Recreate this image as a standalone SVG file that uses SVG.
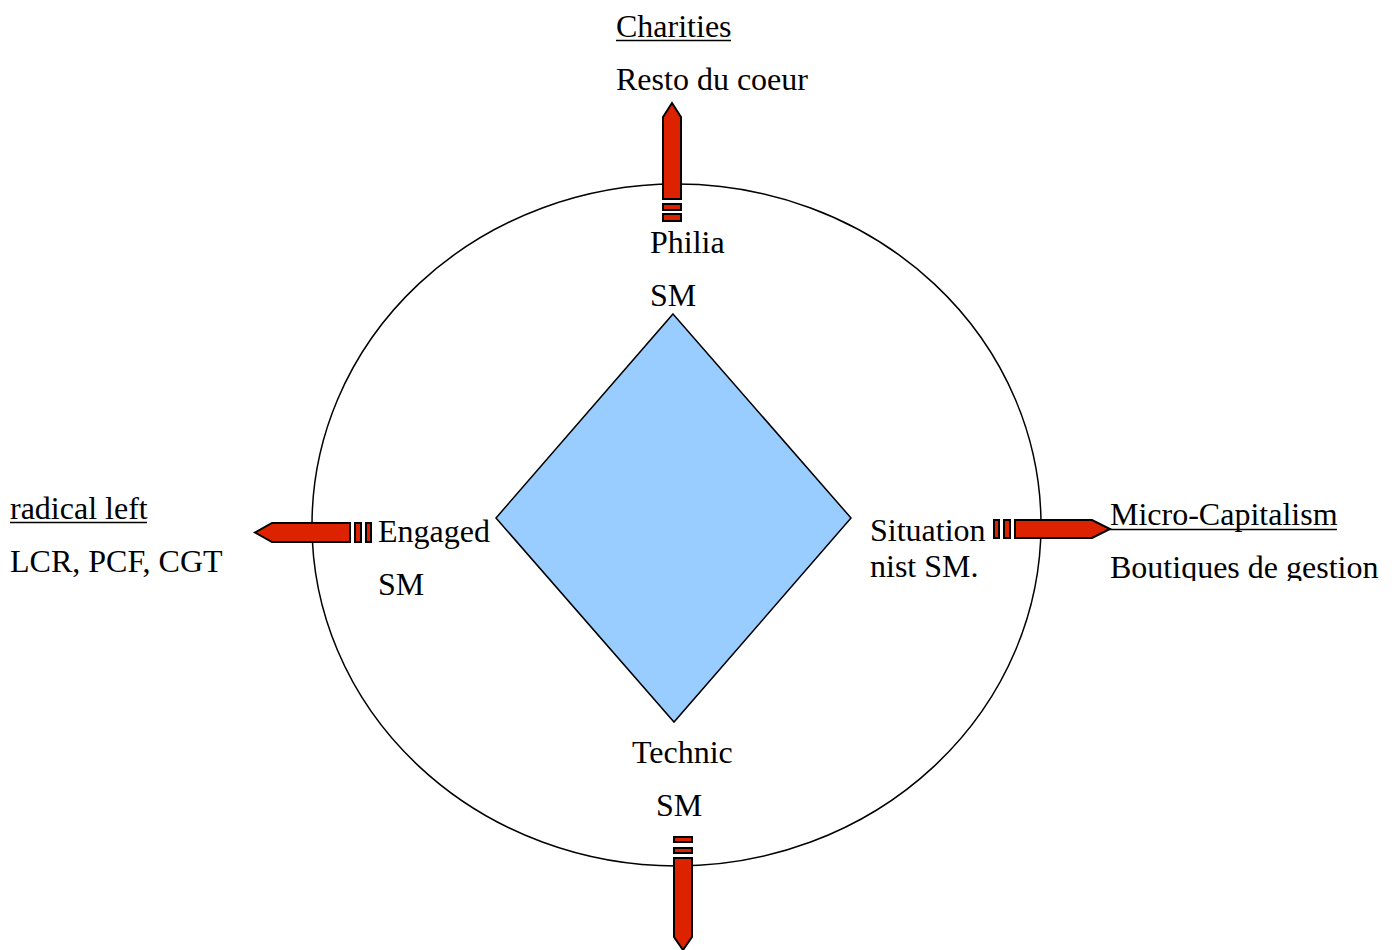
<svg xmlns="http://www.w3.org/2000/svg" width="1394" height="950" viewBox="0 0 1394 950">
<defs>
<style>
.t{font-family:"Liberation Serif","Times New Roman",serif;font-size:32px;fill:#000}
.ul{stroke:#000;stroke-width:1.3;fill:none}
.ar{fill:#DD2200;stroke:#000;stroke-width:2;stroke-linejoin:miter}
</style>
<clipPath id="clipB"><rect x="1100" y="540" width="294" height="41"/></clipPath>
</defs>
<rect width="1394" height="950" fill="#fff"/>
<g id="circle"><ellipse cx="676.5" cy="525" rx="364.5" ry="341" fill="none" stroke="#000" stroke-width="1.5"/></g>
<g id="diamond"><polygon points="673,314 851,518 674,722 496,518" fill="#99CCFF" stroke="#000" stroke-width="1.5"/></g>
<g id="connectors">
<g id="arrow-top">
<polygon class="ar" points="663,199 663,117 672,103 681,117 681,199"/>
<rect class="ar" x="663" y="204" width="18" height="6"/>
<rect class="ar" x="663" y="214" width="18" height="7"/>
</g>
<g id="arrow-left">
<polygon class="ar" points="350,523 272,523 255,532.5 272,542 350,542"/>
<rect class="ar" x="355" y="523" width="6" height="19"/>
<rect class="ar" x="366" y="523" width="5" height="19"/>
</g>
<g id="arrow-right">
<polygon class="ar" points="1015,520 1092,520 1110,529 1092,538 1015,538"/>
<rect class="ar" x="994" y="520" width="5" height="18"/>
<rect class="ar" x="1004" y="520" width="6" height="18"/>
</g>
<g id="arrow-bottom">
<rect class="ar" x="674" y="837" width="18" height="5"/>
<rect class="ar" x="674" y="848" width="18" height="5"/>
<polygon class="ar" points="674,858 692,858 692,937 683,950 674,937"/>
</g>
</g>
<g id="node-charities">
<text class="t" x="616" y="37">Charities</text>
<line class="ul" x1="616" y1="40.5" x2="731" y2="40.5"/>
<text class="t" x="616" y="90">Resto du coeur</text>
</g>
<g id="node-philia">
<text class="t" x="650" y="253">Philia</text>
<text class="t" x="650" y="306">SM</text>
</g>
<g id="node-engaged">
<text class="t" x="378" y="542">Engaged</text>
<text class="t" x="378" y="595">SM</text>
</g>
<g id="node-situationist">
<text class="t" x="870" y="541">Situation</text>
<text class="t" x="870" y="577">nist SM.</text>
</g>
<g id="node-technic">
<text class="t" x="632" y="763">Technic</text>
<text class="t" x="656" y="816">SM</text>
</g>
<g id="node-radical-left">
<text class="t" x="10" y="519">radical left</text>
<line class="ul" x1="10" y1="522.5" x2="147" y2="522.5"/>
<text class="t" x="10" y="572">LCR, PCF, CGT</text>
</g>
<g id="node-micro-capitalism">
<text class="t" x="1110" y="525">Micro-Capitalism</text>
<line class="ul" x1="1110" y1="529.5" x2="1337" y2="529.5"/>
<text class="t" x="1110" y="578" clip-path="url(#clipB)">Boutiques de gestion</text>
</g>
</svg>
